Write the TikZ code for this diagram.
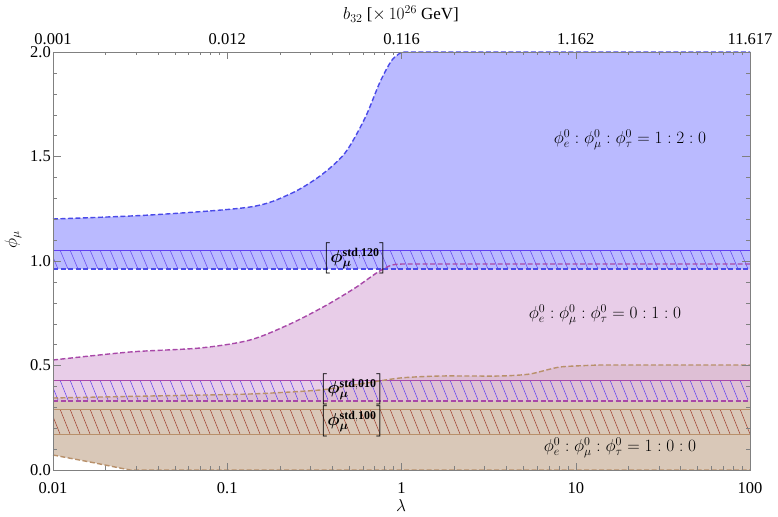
\documentclass[tikz,border=0pt]{standalone}
\usepackage{amsmath,bm}
\usepackage{fontspec}
\setmainfont{Liberation Serif}
\begin{document}
\begin{tikzpicture}[x=1pt,y=-1pt,
  lab/.style={font=\fontsize{17}{19}\selectfont},
  tlab/.style={font=\fontsize{16.5}{18}\selectfont},
  bdash/.style={dashed,dash pattern=on 5pt off 2.5pt,line width=1.4pt}]
\useasboundingbox (0,0) rectangle (778,516);
\definecolor{bf}{HTML}{BABAFF}\definecolor{bl}{HTML}{4A4AE8}
\definecolor{mf}{HTML}{E0BCE0}\definecolor{ml}{HTML}{A848A8}
\definecolor{nf}{HTML}{D9C8B8}\definecolor{nl}{HTML}{B8906A}
\definecolor{hb}{HTML}{6040F0}\definecolor{hr}{HTML}{A04030}
\def\bluetop{(53,219) (150,215) (250,207) (290,194) (320,176) (345,153) (365,118) (380,82) (392,60) (402,52)}
\def\magtop{(53,360) (130,352) (200,348) (250,340) (290,324) (325,306) (355,288) (378,272) (392,265) (405,264)}
\def\brtop{(53,398) (150,396) (250,394) (320,390) (360,384) (400,378) (440,376) (500,376) (530,374) (560,367) (600,365)}
% brown region
\fill[nf] plot[smooth,tension=0.4] coordinates {\brtop} -- (750,365) -- (750,470) -- (130,470) -- (90,462) -- (53,455) -- cycle;
% magenta region
\fill[mf,opacity=0.75] plot[smooth,tension=0.5] coordinates {\magtop} -- (750,264) -- (750,401) -- (53,401) -- cycle;
% blue region
\fill[bf] plot[smooth,tension=0.5] coordinates {\bluetop} -- (750,52) -- (750,269) -- (53,269) -- cycle;
% hatched bands
\begin{scope}
\clip (53,250) rectangle (750,269);
\foreach \x in {40,50,...,760} \draw[hb,line width=0.5pt] (\x,250) -- (\x+8,269);
\end{scope}
\draw[hb,line width=0.5pt] (53,250) -- (750,250);
\begin{scope}
\clip (53,380) rectangle (750,400);
\foreach \x in {40,50,...,760} \draw[hb,line width=0.5pt] (\x,380) -- (\x+8,400);
\end{scope}
\draw[ml,line width=0.5pt] (53,380) -- (750,380);
\begin{scope}
\clip (53,409) rectangle (750,434);
\foreach \x in {40,50,...,760} \draw[hr,line width=0.5pt] (\x,409) -- (\x+10,434);
\end{scope}
\draw[nl,line width=0.5pt] (53,409) -- (750,409) (53,434) -- (750,434);
% boundaries
\draw[bl,bdash] plot[smooth,tension=0.5] coordinates {\bluetop} -- (750,52);
\draw[bl,bdash] (53,269) -- (750,269);
\draw[ml,bdash] plot[smooth,tension=0.5] coordinates {\magtop} -- (750,264);
\draw[ml,bdash] (53,401) -- (750,401);
\draw[nl,bdash] (53,455) -- (90,462) -- (130,470) -- (750,470);
\draw[nl,bdash] plot[smooth,tension=0.4] coordinates {\brtop} -- (750,365);
% frame & ticks
\draw[gray,line width=0.6pt] (53,52) rectangle (750,470);
\foreach \d in {0,1,2,3} {
  \foreach \k in {2,...,9} {
    \pgfmathsetmacro\xx{53+174.25*(\d+log10(\k))}
    \draw[gray] (\xx,470) -- (\xx,466); \draw[gray] (\xx,52) -- (\xx,55);
  }}
\foreach \i [evaluate=\i as \xx using 53+174.25*\i] in {0,1,2,3,4} {
  \draw[gray] (\xx,470) -- (\xx,463); \draw[gray] (\xx,52) -- (\xx,59);}
\foreach \j in {0,...,20} {\pgfmathsetmacro\yy{470-20.9*\j}\draw[gray] (53,\yy) -- (57,\yy);\draw[gray] (750,\yy) -- (746,\yy);}
\foreach \j in {0,5,10,15,20} {\pgfmathsetmacro\yy{470-20.9*\j}\draw[gray] (53,\yy) -- (61,\yy);\draw[gray] (750,\yy) -- (742,\yy);}
% tick labels
\foreach \t/\xx in {0.01/53,0.1/227.25,1/401.5,10/575.75,100/750} \node[tlab] (bx\xx) at (\xx,488) {\t};
\foreach \t/\xx in {0.001/53,0.012/227.25,0.116/401.5,1.162/575.75,11.617/750} \node[tlab] (tx\xx) at (\xx,39) {\t};
\foreach \t/\yy in {0.0/470,0.5/365.5,1.0/261,1.5/156.5,2.0/52} \node[tlab,anchor=east,inner sep=1pt] (yl\yy) at (52,\yy) {\t};
\node[lab] (xlab) at (401,505) {$\lambda$};
\node[lab] (tlabel) at (401,14) {$b_{32}$ [$\times\,10^{26}$ GeV]};
\node[lab,rotate=90] (ylab) at (13,240) {$\phi_\mu$};
% region labels
\node[lab] (r1) at (630,140) {$\phi^0_e:\phi^0_\mu:\phi^0_\tau=1:2:0$};
\node[lab] (r2) at (605,315) {$\phi^0_e:\phi^0_\mu:\phi^0_\tau=0:1:0$};
\node[lab] (r3) at (620,448) {$\phi^0_e:\phi^0_\mu:\phi^0_\tau=1:0:0$};
\node[lab] (s1) at (355,258) {$\Big[\bm{\phi}^{\mathbf{std,120}}_{\bm\mu}\Big]$};
\node[lab] (s2) at (352,389) {$\Big[\bm{\phi}^{\mathbf{std,010}}_{\bm\mu}\Big]$};
\node[lab] (s3) at (352,421) {$\Big[\bm{\phi}^{\mathbf{std,100}}_{\bm\mu}\Big]$};
\end{tikzpicture}
\end{document}
